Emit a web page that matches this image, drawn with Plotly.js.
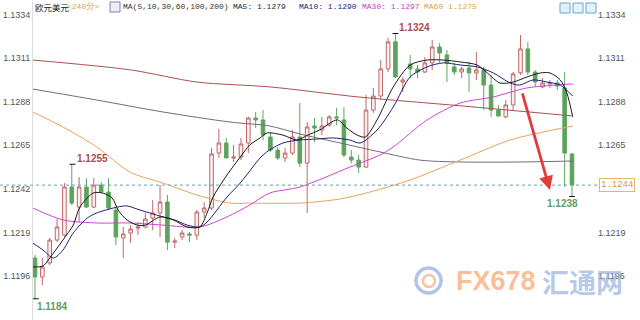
<!DOCTYPE html>
<html>
<head>
<meta charset="utf-8">
<script src="https://cdn.plot.ly/plotly-3.0.1.min.js"></script>
<style>html,body{margin:0;padding:0;background:#fff;}#chart{width:640px;height:320px;}</style>
</head>
<body>
<div id="chart"></div>
<script>
// ---- Candles (EUR/USD, 240-minute bars) ----
const opens  = [1.12055,1.11955,1.12029,1.12150,1.12176,1.12430,1.12324,1.12430,1.12324,1.12440,
                1.12403,1.12308,1.12161,1.12187,1.12213,1.12219,1.12266,1.12293,1.12351,1.12139,
                1.12166,1.12182,1.12176,1.12298,1.12319,1.12609,1.12662,1.12583,1.12588,1.12662,
                1.12794,1.12784,1.12694,1.12625,1.12583,1.12609,1.12694,1.12556,1.12752,1.12731,
                1.12757,1.12800,1.12784,1.12588,1.12572,1.12535,1.12836,1.12910,1.13053,1.13196,
                1.12984,1.13079,1.13053,1.13037,1.13085,1.13169,1.13127,1.13064,1.13037,1.13058,
                1.13032,1.13048,1.12968,1.12836,1.12800,1.12863,1.13032,1.13159,1.13037,1.12958,
                1.12974,1.12979,1.12953,1.12604];
const highs  = [1.12071,1.12055,1.12161,1.12261,1.12451,1.12550,1.12483,1.12477,1.12477,1.12456,
                1.12477,1.12324,1.12219,1.12229,1.12245,1.12293,1.12361,1.12440,1.12388,1.12161,
                1.12203,1.12192,1.12308,1.12351,1.12636,1.12736,1.12689,1.12652,1.12689,1.12800,
                1.12826,1.12836,1.12715,1.12641,1.12636,1.12731,1.12873,1.12773,1.12794,1.12800,
                1.12810,1.12847,1.12852,1.12625,1.12599,1.12916,1.12953,1.13100,1.13217,1.13240,
                1.13011,1.13127,1.13074,1.13116,1.13206,1.13190,1.13153,1.13085,1.13064,1.13090,
                1.13143,1.13064,1.13021,1.12863,1.12889,1.13037,1.13232,1.13196,1.13048,1.13005,
                1.12995,1.12995,1.13037,1.12609];
const lows   = [1.11840,1.11912,1.12018,1.12139,1.12166,1.12335,1.12245,1.12319,1.12319,1.12398,
                1.12308,1.12124,1.12055,1.12134,1.12176,1.12213,1.12203,1.12166,1.12097,1.12108,
                1.12150,1.12139,1.12150,1.12266,1.12308,1.12583,1.12583,1.12562,1.12572,1.12609,
                1.12741,1.12678,1.12615,1.12572,1.12562,1.12599,1.12535,1.12293,1.12668,1.12704,
                1.12747,1.12757,1.12588,1.12556,1.12504,1.12530,1.12821,1.12889,1.13037,1.13005,
                1.12932,1.13005,1.13005,1.13032,1.13048,1.13085,1.12984,1.13021,1.13005,1.12932,
                1.12995,1.12836,1.12800,1.12800,1.12794,1.12836,1.13021,1.13021,1.12958,1.12953,
                1.12953,1.12942,1.12430,1.12380];
const closes = [1.11955,1.12008,1.12150,1.12219,1.12430,1.12345,1.12430,1.12324,1.12440,1.12403,
                1.12319,1.12166,1.12182,1.12208,1.12219,1.12261,1.12293,1.12351,1.12139,1.12145,
                1.12187,1.12176,1.12298,1.12319,1.12604,1.12662,1.12583,1.12588,1.12657,1.12794,
                1.12784,1.12704,1.12625,1.12583,1.12609,1.12694,1.12556,1.12747,1.12741,1.12752,
                1.12800,1.12794,1.12599,1.12572,1.12535,1.12836,1.12910,1.13053,1.13196,1.13011,
                1.12995,1.13053,1.13037,1.13085,1.13169,1.13137,1.13085,1.13037,1.13053,1.13032,
                1.13048,1.12968,1.12836,1.12805,1.12863,1.13027,1.13159,1.13037,1.12984,1.12979,
                1.12979,1.12963,1.12609,1.12440];

// ---- Moving averages (x = bar index) ----
const ma5X  = [-0.3,1.1,2.0,3.8,5.2,6.1,7.9,9.2,10.5,11.3,12.5,13.9,15.0,17.0,18.8,20.7,22.4,23.4,24.2,26.1,27.9,29.2,30.6,31.5,33.7,35.6,37.1,38.7,41.1,42.4,43.8,44.9,46.5,48.7,51.0,53.3,55.5,57.8,60.1,61.5,63.2,65.0,66.9,68.7,70.0,71.4,72.3,73.1];
const ma5Y  = [1.12008,1.12013,1.12055,1.12150,1.12229,1.12324,1.12398,1.12398,1.12372,1.12308,1.12256,1.12229,1.12229,1.12272,1.12256,1.12219,1.12219,1.12293,1.12377,1.12493,1.12588,1.12652,1.12689,1.12715,1.12704,1.12678,1.12704,1.12731,1.12784,1.12741,1.12704,1.12694,1.12784,1.12958,1.13074,1.13100,1.13100,1.13090,1.13074,1.13032,1.12979,1.12984,1.13011,1.13032,1.13032,1.12995,1.12926,1.12800];
const ma10X = [-0.3,1.1,2.5,3.8,5.2,7.1,8.4,11.2,12.5,14.3,15.6,17.4,19.0,20.7,22.4,23.4,26.1,27.9,29.6,30.6,31.5,33.7,36.0,38.3,40.5,42.8,44.2,46.5,48.7,51.0,53.3,55.5,57.8,60.1,62.3,64.6,65.9,67.7,69.6,71.4,73.1];
const ma10Y = [1.12134,1.12097,1.12055,1.12097,1.12187,1.12266,1.12293,1.12324,1.12330,1.12308,1.12293,1.12272,1.12256,1.12229,1.12219,1.12245,1.12377,1.12451,1.12535,1.12583,1.12615,1.12662,1.12678,1.12683,1.12689,1.12678,1.12662,1.12731,1.12852,1.13011,1.13064,1.13085,1.13074,1.13064,1.13032,1.12979,1.12968,1.12995,1.12984,1.12968,1.12910];
const ma30X = [-0.3,3.8,8.4,12.9,17.4,22.4,26.1,29.2,31.9,36.0,42.8,46.9,48.7,53.3,57.8,62.3,66.9,73.1];
const ma30Y = [1.12319,1.12256,1.12240,1.12240,1.12229,1.12219,1.12272,1.12335,1.12398,1.12430,1.12535,1.12599,1.12641,1.12784,1.12873,1.12905,1.12953,1.12974];
const ma60X = [-0.3,3.8,8.4,12.9,17.4,22.0,26.5,29.2,36.0,41.5,45.5,51.0,57.8,64.6,73.1];
const ma60Y = [1.12826,1.12747,1.12641,1.12509,1.12451,1.12388,1.12345,1.12345,1.12345,1.12367,1.12403,1.12467,1.12572,1.12678,1.12752];
const ma100X = [-0.3,8.4,17.4,26.5,31.9,36.0,41.5,46.9,52.3,57.8,65.9,73.1];
const ma100Y = [1.12947,1.12889,1.12826,1.12773,1.12752,1.12710,1.12662,1.12615,1.12572,1.12562,1.12562,1.12567];
const ma200X = [-0.3,13,22,32,44,58,73.1];
const ma200Y = [1.13100,1.13048,1.12984,1.12958,1.12905,1.12858,1.12805];

// ---- Axis ticks ----
const tickVals = [1.1196,1.1219,1.1242,1.1265,1.1288,1.1311,1.1334];
const tickText = ["1.1196","1.1219","1.1242","1.1265","1.1288","1.1311","1.1334"];

// ---- Legend header values ----
const pairName = "欧元美元";
const period = "&lt;240分&gt;";
const maHeader = "MA(5,10,30,60,100,200)";
const maLegend = [
  {text:"MA5: 1.1279",  color:"#2b2b2b", px:231},
  {text:"MA10: 1.1290", color:"#1c1c7c", px:297},
  {text:"MA30: 1.1297", color:"#c93fc9", px:360},
  {text:"MA60 1.1275",  color:"#e0a24a", px:422}
];

const xIdx = closes.map((_, i) => i);
const iHigh = highs.indexOf(Math.max(...highs.slice(0, 60)));
const iLow = lows.indexOf(Math.min(...lows));
const iHigh1 = 5;            // 1.1255 local high
const iLast = closes.length - 1;
const last = closes[iLast];

// pixel helpers for the 640x320 frame (plot area 33..597 px)
const L = 33, R = 597, W = R - L, H = 320;
const px = p => (p - L) / W;
const py = p => 1 - p / H;

function ma(x, y, color, axis) {
  return {type:'scatter', mode:'lines', x:x, y:y, yaxis: axis || 'y',
          line:{color:color, width:1, shape:'spline', smoothing:0.8},
          hoverinfo:'skip', showlegend:false};
}

const traces = [
  ma(ma200X, ma200Y, '#a8524e', 'y2'),
  ma(ma100X, ma100Y, '#76697f'),
  ma(ma60X, ma60Y, '#eba456'),
  ma(ma30X, ma30Y, '#cf45cf'),
  ma(ma10X, ma10Y, '#1f1f78'),
  ma(ma5X, ma5Y, '#1a1a1a'),
  {
    type:'candlestick', x:xIdx, open:opens, high:highs, low:lows, close:closes,
    increasing:{line:{color:'#c06868', width:1}, fillcolor:'#fbf0f0'},
    decreasing:{line:{color:'#5fa65f', width:1}, fillcolor:'#5aa35a'},
    whiskerwidth:0, hoverinfo:'skip', showlegend:false
  }
];

const fontTick = {family:'"Liberation Sans", Arial, sans-serif', size:9, color:'#555'};
const mono = '"Liberation Mono", "DejaVu Sans Mono", "Noto Sans CJK SC", monospace';

const annotations = [
  {xref:'paper', yref:'paper', x:px(L), y:py(7), xanchor:'left', yanchor:'middle', showarrow:false,
   text:pairName, font:{family:'"Noto Sans CJK SC", sans-serif', size:8.5, color:'#222'}},
  {xref:'paper', yref:'paper', x:px(65), y:py(7), xanchor:'left', yanchor:'middle', showarrow:false,
   text:period, font:{family:mono, size:8, color:'#d9a441'}},
  {xref:'paper', yref:'paper', x:px(121), y:py(7), xanchor:'left', yanchor:'middle', showarrow:false,
   text:maHeader, font:{family:mono, size:8, color:'#333'}},
  ...maLegend.map(m => ({xref:'paper', yref:'paper', x:px(m.px), y:py(7), xanchor:'left', yanchor:'middle',
   showarrow:false, text:m.text, font:{family:mono, size:8, color:m.color}})),
  // extreme labels
  {x:iHigh1, y:highs[iHigh1], xanchor:'left', yanchor:'bottom', xshift:3, yshift:-2, showarrow:false,
   text:highs[iHigh1].toFixed(4), font:{family:'"Liberation Sans", Arial', size:10, color:'#b24a4a', weight:'bold'}},
  {x:iHigh, y:highs[iHigh], xanchor:'left', yanchor:'bottom', xshift:2, yshift:-1, showarrow:false,
   text:highs[iHigh].toFixed(4), font:{family:'"Liberation Sans", Arial', size:10, color:'#b24a4a', weight:'bold'}},
  {x:iLow, y:lows[iLow], xanchor:'left', yanchor:'top', xshift:0, yshift:0, showarrow:false,
   text:lows[iLow].toFixed(4), font:{family:'"Liberation Sans", Arial', size:10, color:'#5e9e5e', weight:'bold'}},
  {x:iLast, y:lows[iLast], xanchor:'right', yanchor:'top', xshift:8, yshift:0, showarrow:false,
   text:lows[iLast].toFixed(4), font:{family:'"Liberation Sans", Arial', size:10, color:'#5e9e5e', weight:'bold'}},
  // red arrow
  {x:70.0, y:1.12414, ax:66.2, ay:1.12932, axref:'x', ayref:'y', text:'', showarrow:true,
   arrowcolor:'#e23b3b', arrowwidth:2.8, arrowhead:2, arrowsize:1},
  // current price box
  {xref:'paper', yref:'y', x:px(599), y:last, xanchor:'left', yanchor:'middle', showarrow:false,
   text:last.toFixed(4), bgcolor:'#ffffff', bordercolor:'#e3b66c', borderwidth:1, borderpad:1,
   font:{family:mono, size:9, color:'#d2994a'}},
  // watermark
  {xref:'paper', yref:'paper', x:px(454), y:py(281), xanchor:'left', yanchor:'middle', showarrow:false,
   text:'FX678', font:{family:'"Liberation Sans", Arial', size:27, color:'rgba(246,170,120,0.75)', weight:'bold'}},
  {xref:'paper', yref:'paper', x:px(540), y:py(281), xanchor:'left', yanchor:'middle', showarrow:false,
   text:'汇通网', font:{family:'"Noto Sans CJK SC", sans-serif', size:27, color:'rgba(150,178,222,0.7)', weight:'bold'}}
];

const mk = (i, yv, a, b) => ({type:'line', xref:'x', yref:'y', x0:i + a, x1:i + b, y0:yv, y1:yv,
                              line:{color:'#111', width:1}});
const shapes = [
  {type:'line', xref:'paper', yref:'y', x0:px(0), x1:px(598), y0:last, y1:last,
   line:{color:'#6e9fb2', width:1, dash:'3px,3px'}},
  mk(iHigh1, highs[iHigh1], -0.3, 0.5),
  mk(iHigh, highs[iHigh], -0.4, 0.4),
  mk(iLow, lows[iLow], -0.3, 0.5),
  mk(iLast, lows[iLast], -0.4, 0.4),
  // header icon
  {type:'rect', xref:'paper', yref:'paper', x0:px(110), x1:px(120), y0:py(12), y1:py(2),
   line:{color:'#8a80b4', width:1}, fillcolor:'#eeeaf6'},
  // top-right buttons
  ...[560, 573, 586].map(b => ({type:'rect', xref:'paper', yref:'paper', x0:px(b), x1:px(b + 10),
   y0:py(13), y1:py(3), line:{color:'#6aa6c8', width:1}, fillcolor:'#e2f1fa'})),
  // watermark logo
  {type:'circle', xref:'paper', yref:'paper', x0:px(416), x1:px(441), y0:py(293), y1:py(268),
   line:{color:'rgba(150,178,222,0.75)', width:3.5}},
  {type:'circle', xref:'paper', yref:'paper', x0:px(423), x1:px(435), y0:py(287), y1:py(275),
   line:{color:'rgba(246,175,125,0.75)', width:2.5}}
];

const yCommon = {range:[1.11728, 1.13417], tickvals:tickVals, ticktext:tickText, tickfont:fontTick,
                 showgrid:false, zeroline:false, ticks:'', fixedrange:true};

const layout = {
  width:640, height:320,
  margin:{l:L, r:640 - R, t:0, b:0},
  paper_bgcolor:'#fff', plot_bgcolor:'#fff',
  showlegend:false,
  xaxis:{range:[-0.27, 76.4], visible:false, rangeslider:{visible:false}, fixedrange:true},
  yaxis:Object.assign({side:'left', showline:true, linecolor:'#dedede', linewidth:1}, yCommon),
  yaxis2:Object.assign({side:'right', overlaying:'y', showline:false}, yCommon),
  annotations:annotations,
  shapes:shapes
};

Plotly.newPlot('chart', traces, layout, {staticPlot:true, displayModeBar:false});
</script>
</body>
</html>
